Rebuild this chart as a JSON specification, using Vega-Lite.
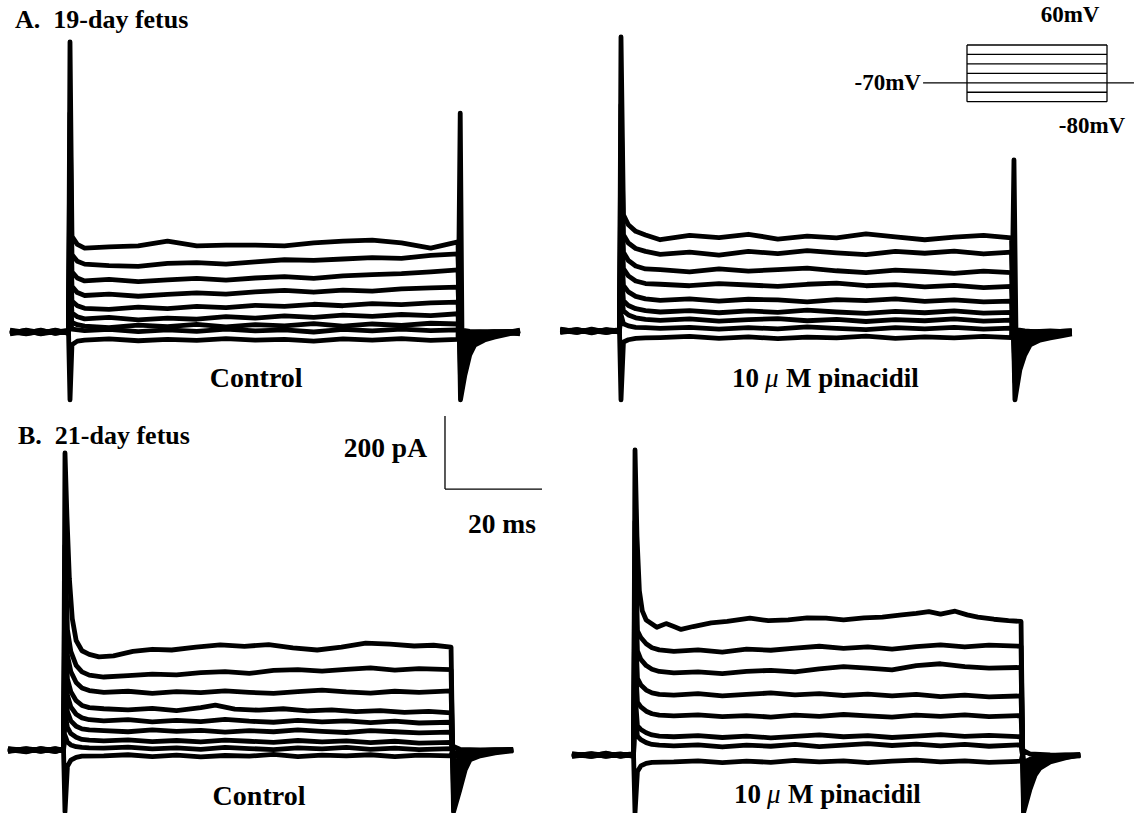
{
"$schema": "https://vega.github.io/schema/vega-lite/v6.json",
"padding": 0,
"background": "white",
"config": {"view": {"stroke": null}},
"bounds": "flush",
"spacing": 0,
"columns": 2,
"datasets": {
"AL": [
{"s":1,"t":-12.3,"i":4},{"s":1,"t":-9,"i":-3},{"s":1,"t":-6,"i":5},{"s":1,"t":-3,"i":-4},{"s":1,"t":-0.3,"i":3},{"s":1,"t":0,"i":795},{"s":1,"t":0.4,"i":262},{"s":1,"t":1.5,"i":240},{"s":1,"t":3,"i":230},{"s":1,"t":8,"i":233},{"s":1,"t":14,"i":236},{"s":1,"t":20,"i":249},{"s":1,"t":26,"i":236},{"s":1,"t":32,"i":238},{"s":1,"t":38,"i":238},{"s":1,"t":44,"i":236},{"s":1,"t":50,"i":244},{"s":1,"t":56,"i":249},{"s":1,"t":62,"i":252},{"s":1,"t":68,"i":244},{"s":1,"t":74,"i":230},{"s":1,"t":79.6,"i":247},{"s":1,"t":80.1,"i":-186},{"s":1,"t":81,"i":-118},{"s":1,"t":82,"i":-63},{"s":1,"t":83,"i":-36},{"s":1,"t":85,"i":-22},{"s":1,"t":87,"i":-14},{"s":1,"t":90,"i":-5},{"s":1,"t":92.3,"i":2},
{"s":2,"t":-12.3,"i":-4},{"s":2,"t":-9,"i":5},{"s":2,"t":-6,"i":-2},{"s":2,"t":-3,"i":4},{"s":2,"t":-0.3,"i":-3},{"s":2,"t":0,"i":600},{"s":2,"t":0.4,"i":212},{"s":2,"t":1.5,"i":194},{"s":2,"t":3,"i":186},{"s":2,"t":8,"i":182},{"s":2,"t":14,"i":180},{"s":2,"t":20,"i":188},{"s":2,"t":26,"i":190},{"s":2,"t":32,"i":186},{"s":2,"t":38,"i":192},{"s":2,"t":44,"i":198},{"s":2,"t":50,"i":196},{"s":2,"t":56,"i":200},{"s":2,"t":62,"i":204},{"s":2,"t":68,"i":202},{"s":2,"t":74,"i":210},{"s":2,"t":79.6,"i":214},{"s":2,"t":80.1,"i":-130},{"s":2,"t":81,"i":-85},{"s":2,"t":82,"i":-45},{"s":2,"t":83,"i":-26},{"s":2,"t":85,"i":-15},{"s":2,"t":87,"i":-9},{"s":2,"t":90,"i":-3},{"s":2,"t":92.3,"i":-4},
{"s":3,"t":-12.3,"i":1},{"s":3,"t":-9,"i":-5},{"s":3,"t":-6,"i":2},{"s":3,"t":-3,"i":-1},{"s":3,"t":-0.3,"i":5},{"s":3,"t":0,"i":470},{"s":3,"t":0.4,"i":165},{"s":3,"t":1.5,"i":148},{"s":3,"t":3,"i":140},{"s":3,"t":8,"i":144},{"s":3,"t":14,"i":138},{"s":3,"t":20,"i":143},{"s":3,"t":26,"i":147},{"s":3,"t":32,"i":142},{"s":3,"t":38,"i":148},{"s":3,"t":44,"i":152},{"s":3,"t":50,"i":147},{"s":3,"t":56,"i":154},{"s":3,"t":62,"i":157},{"s":3,"t":68,"i":160},{"s":3,"t":74,"i":165},{"s":3,"t":79.6,"i":170},{"s":3,"t":80.1,"i":-95},{"s":3,"t":81,"i":-60},{"s":3,"t":82,"i":-32},{"s":3,"t":83,"i":-18},{"s":3,"t":85,"i":-10},{"s":3,"t":87,"i":-6},{"s":3,"t":90,"i":-2},{"s":3,"t":92.3,"i":4},
{"s":4,"t":-12.3,"i":-2},{"s":4,"t":-9,"i":4},{"s":4,"t":-6,"i":-5},{"s":4,"t":-3,"i":1},{"s":4,"t":-0.3,"i":-1},{"s":4,"t":0,"i":350},{"s":4,"t":0.4,"i":125},{"s":4,"t":1.5,"i":108},{"s":4,"t":3,"i":100},{"s":4,"t":8,"i":104},{"s":4,"t":14,"i":98},{"s":4,"t":20,"i":103},{"s":4,"t":26,"i":107},{"s":4,"t":32,"i":104},{"s":4,"t":38,"i":110},{"s":4,"t":44,"i":114},{"s":4,"t":50,"i":109},{"s":4,"t":56,"i":115},{"s":4,"t":62,"i":112},{"s":4,"t":68,"i":118},{"s":4,"t":74,"i":121},{"s":4,"t":79.6,"i":123},{"s":4,"t":80.1,"i":-70},{"s":4,"t":81,"i":-45},{"s":4,"t":82,"i":-24},{"s":4,"t":83,"i":-13},{"s":4,"t":85,"i":-8},{"s":4,"t":87,"i":-4},{"s":4,"t":90,"i":-1},{"s":4,"t":92.3,"i":-5},
{"s":5,"t":-12.3,"i":5},{"s":5,"t":-9,"i":-1},{"s":5,"t":-6,"i":4},{"s":5,"t":-3,"i":-3},{"s":5,"t":-0.3,"i":1},{"s":5,"t":0,"i":250},{"s":5,"t":0.4,"i":85},{"s":5,"t":1.5,"i":72},{"s":5,"t":3,"i":65},{"s":5,"t":8,"i":62},{"s":5,"t":14,"i":68},{"s":5,"t":20,"i":64},{"s":5,"t":26,"i":70},{"s":5,"t":32,"i":67},{"s":5,"t":38,"i":73},{"s":5,"t":44,"i":70},{"s":5,"t":50,"i":76},{"s":5,"t":56,"i":72},{"s":5,"t":62,"i":78},{"s":5,"t":68,"i":75},{"s":5,"t":74,"i":80},{"s":5,"t":79.6,"i":82},{"s":5,"t":80.1,"i":-50},{"s":5,"t":81,"i":-32},{"s":5,"t":82,"i":-17},{"s":5,"t":83,"i":-9},{"s":5,"t":85,"i":-5},{"s":5,"t":87,"i":-3},{"s":5,"t":90,"i":0},{"s":5,"t":92.3,"i":5},
{"s":6,"t":-12.3,"i":-5},{"s":6,"t":-9,"i":1},{"s":6,"t":-6,"i":-3},{"s":6,"t":-3,"i":5},{"s":6,"t":-0.3,"i":-4},{"s":6,"t":0,"i":160},{"s":6,"t":0.4,"i":52},{"s":6,"t":1.5,"i":42},{"s":6,"t":3,"i":36},{"s":6,"t":8,"i":40},{"s":6,"t":14,"i":33},{"s":6,"t":20,"i":38},{"s":6,"t":26,"i":35},{"s":6,"t":32,"i":42},{"s":6,"t":38,"i":38},{"s":6,"t":44,"i":44},{"s":6,"t":50,"i":40},{"s":6,"t":56,"i":46},{"s":6,"t":62,"i":43},{"s":6,"t":68,"i":48},{"s":6,"t":74,"i":45},{"s":6,"t":79.6,"i":50},{"s":6,"t":80.1,"i":-32},{"s":6,"t":81,"i":-20},{"s":6,"t":82,"i":-11},{"s":6,"t":83,"i":-6},{"s":6,"t":85,"i":-3},{"s":6,"t":87,"i":-2},{"s":6,"t":90,"i":1},{"s":6,"t":92.3,"i":-2},
{"s":7,"t":-12.3,"i":2},{"s":7,"t":-9,"i":-4},{"s":7,"t":-6,"i":1},{"s":7,"t":-3,"i":-1},{"s":7,"t":-0.3,"i":2},{"s":7,"t":0,"i":90},{"s":7,"t":0.4,"i":26},{"s":7,"t":1.5,"i":20},{"s":7,"t":3,"i":16},{"s":7,"t":8,"i":12},{"s":7,"t":14,"i":19},{"s":7,"t":20,"i":15},{"s":7,"t":26,"i":21},{"s":7,"t":32,"i":14},{"s":7,"t":38,"i":20},{"s":7,"t":44,"i":17},{"s":7,"t":50,"i":23},{"s":7,"t":56,"i":16},{"s":7,"t":62,"i":22},{"s":7,"t":68,"i":18},{"s":7,"t":74,"i":24},{"s":7,"t":79.6,"i":22},{"s":7,"t":80.1,"i":-18},{"s":7,"t":81,"i":-11},{"s":7,"t":82,"i":-6},{"s":7,"t":83,"i":-3},{"s":7,"t":85,"i":-2},{"s":7,"t":87,"i":0},{"s":7,"t":90,"i":1},{"s":7,"t":92.3,"i":0},
{"s":8,"t":-12.3,"i":-1},{"s":8,"t":-9,"i":3},{"s":8,"t":-6,"i":-4},{"s":8,"t":-3,"i":3},{"s":8,"t":-0.3,"i":0},{"s":8,"t":0,"i":40},{"s":8,"t":0.4,"i":8},{"s":8,"t":3,"i":4},{"s":8,"t":8,"i":7},{"s":8,"t":14,"i":1},{"s":8,"t":20,"i":6},{"s":8,"t":26,"i":2},{"s":8,"t":32,"i":8},{"s":8,"t":38,"i":3},{"s":8,"t":44,"i":6},{"s":8,"t":50,"i":0},{"s":8,"t":56,"i":7},{"s":8,"t":62,"i":3},{"s":8,"t":68,"i":8},{"s":8,"t":74,"i":4},{"s":8,"t":79.6,"i":6},{"s":8,"t":80.1,"i":-8},{"s":8,"t":81,"i":-4},{"s":8,"t":83,"i":-1},{"s":8,"t":87,"i":1},{"s":8,"t":92.3,"i":-1},
{"s":9,"t":-12.3,"i":1},{"s":9,"t":-9,"i":-2},{"s":9,"t":-6,"i":2},{"s":9,"t":-3,"i":-1},{"s":9,"t":-0.3,"i":1},{"s":9,"t":0,"i":-186},{"s":9,"t":0.4,"i":-35},{"s":9,"t":1.5,"i":-25},{"s":9,"t":3,"i":-22},{"s":9,"t":8,"i":-19},{"s":9,"t":14,"i":-24},{"s":9,"t":20,"i":-20},{"s":9,"t":26,"i":-23},{"s":9,"t":32,"i":-18},{"s":9,"t":38,"i":-22},{"s":9,"t":44,"i":-20},{"s":9,"t":50,"i":-25},{"s":9,"t":56,"i":-19},{"s":9,"t":62,"i":-22},{"s":9,"t":68,"i":-18},{"s":9,"t":74,"i":-23},{"s":9,"t":79.6,"i":-20},{"s":9,"t":80.05,"i":600},{"s":9,"t":80.4,"i":5},{"s":9,"t":82,"i":2},{"s":9,"t":86,"i":0},{"s":9,"t":92.3,"i":1}
],
"AR": [
{"s":1,"t":-12.4,"i":3},{"s":1,"t":-9,"i":-4},{"s":1,"t":-6,"i":5},{"s":1,"t":-3,"i":-3},{"s":1,"t":-0.3,"i":1},{"s":1,"t":0,"i":806},{"s":1,"t":0.5,"i":318},{"s":1,"t":1.5,"i":291},{"s":1,"t":3,"i":273},{"s":1,"t":5,"i":263},{"s":1,"t":8,"i":250},{"s":1,"t":14,"i":262},{"s":1,"t":20,"i":256},{"s":1,"t":26,"i":265},{"s":1,"t":32,"i":252},{"s":1,"t":38,"i":260},{"s":1,"t":44,"i":255},{"s":1,"t":50,"i":266},{"s":1,"t":56,"i":258},{"s":1,"t":62,"i":250},{"s":1,"t":68,"i":257},{"s":1,"t":74,"i":262},{"s":1,"t":79.7,"i":255},{"s":1,"t":80.4,"i":-189},{"s":1,"t":81.4,"i":-107},{"s":1,"t":82.4,"i":-66},{"s":1,"t":83.5,"i":-38},{"s":1,"t":85.5,"i":-25},{"s":1,"t":87.6,"i":-19},{"s":1,"t":89.6,"i":-14},{"s":1,"t":92,"i":-8},
{"s":2,"t":-12.4,"i":-3},{"s":2,"t":-9,"i":4},{"s":2,"t":-6,"i":-4},{"s":2,"t":-3,"i":2},{"s":2,"t":-0.3,"i":-1},{"s":2,"t":0,"i":620},{"s":2,"t":0.5,"i":264},{"s":2,"t":1.5,"i":241},{"s":2,"t":3,"i":226},{"s":2,"t":5,"i":218},{"s":2,"t":8,"i":210},{"s":2,"t":14,"i":216},{"s":2,"t":20,"i":208},{"s":2,"t":26,"i":218},{"s":2,"t":32,"i":212},{"s":2,"t":38,"i":220},{"s":2,"t":44,"i":214},{"s":2,"t":50,"i":209},{"s":2,"t":56,"i":218},{"s":2,"t":62,"i":213},{"s":2,"t":68,"i":219},{"s":2,"t":74,"i":211},{"s":2,"t":79.7,"i":216},{"s":2,"t":80.4,"i":-140},{"s":2,"t":81.4,"i":-80},{"s":2,"t":82.4,"i":-50},{"s":2,"t":83.5,"i":-29},{"s":2,"t":85.5,"i":-19},{"s":2,"t":87.6,"i":-14},{"s":2,"t":89.6,"i":-11},{"s":2,"t":92,"i":-6},
{"s":3,"t":-12.4,"i":4},{"s":3,"t":-9,"i":-1},{"s":3,"t":-6,"i":2},{"s":3,"t":-3,"i":-4},{"s":3,"t":-0.3,"i":2},{"s":3,"t":0,"i":480},{"s":3,"t":0.5,"i":216},{"s":3,"t":1.5,"i":193},{"s":3,"t":3,"i":178},{"s":3,"t":5,"i":170},{"s":3,"t":8,"i":168},{"s":3,"t":14,"i":162},{"s":3,"t":20,"i":170},{"s":3,"t":26,"i":164},{"s":3,"t":32,"i":168},{"s":3,"t":38,"i":172},{"s":3,"t":44,"i":165},{"s":3,"t":50,"i":160},{"s":3,"t":56,"i":167},{"s":3,"t":62,"i":163},{"s":3,"t":68,"i":158},{"s":3,"t":74,"i":164},{"s":3,"t":79.7,"i":160},{"s":3,"t":80.4,"i":-105},{"s":3,"t":81.4,"i":-60},{"s":3,"t":82.4,"i":-37},{"s":3,"t":83.5,"i":-22},{"s":3,"t":85.5,"i":-15},{"s":3,"t":87.6,"i":-11},{"s":3,"t":89.6,"i":-9},{"s":3,"t":92,"i":-5},
{"s":4,"t":-12.4,"i":-1},{"s":4,"t":-9,"i":3},{"s":4,"t":-6,"i":-5},{"s":4,"t":-3,"i":4},{"s":4,"t":-0.3,"i":0},{"s":4,"t":0,"i":360},{"s":4,"t":0.5,"i":171},{"s":4,"t":1.5,"i":151},{"s":4,"t":3,"i":137},{"s":4,"t":5,"i":130},{"s":4,"t":8,"i":128},{"s":4,"t":14,"i":124},{"s":4,"t":20,"i":130},{"s":4,"t":26,"i":126},{"s":4,"t":32,"i":122},{"s":4,"t":38,"i":128},{"s":4,"t":44,"i":131},{"s":4,"t":50,"i":124},{"s":4,"t":56,"i":127},{"s":4,"t":62,"i":121},{"s":4,"t":68,"i":125},{"s":4,"t":74,"i":119},{"s":4,"t":79.7,"i":122},{"s":4,"t":80.4,"i":-75},{"s":4,"t":81.4,"i":-43},{"s":4,"t":82.4,"i":-27},{"s":4,"t":83.5,"i":-16},{"s":4,"t":85.5,"i":-11},{"s":4,"t":87.6,"i":-8},{"s":4,"t":89.6,"i":-7},{"s":4,"t":92,"i":-4},
{"s":5,"t":-12.4,"i":5},{"s":5,"t":-9,"i":-2},{"s":5,"t":-6,"i":1},{"s":5,"t":-3,"i":-2},{"s":5,"t":-0.3,"i":4},{"s":5,"t":0,"i":260},{"s":5,"t":0.5,"i":125},{"s":5,"t":1.5,"i":107},{"s":5,"t":3,"i":95},{"s":5,"t":5,"i":88},{"s":5,"t":8,"i":84},{"s":5,"t":14,"i":88},{"s":5,"t":20,"i":82},{"s":5,"t":26,"i":87},{"s":5,"t":32,"i":85},{"s":5,"t":38,"i":80},{"s":5,"t":44,"i":86},{"s":5,"t":50,"i":83},{"s":5,"t":56,"i":88},{"s":5,"t":62,"i":81},{"s":5,"t":68,"i":85},{"s":5,"t":74,"i":80},{"s":5,"t":79.7,"i":82},{"s":5,"t":80.4,"i":-52},{"s":5,"t":81.4,"i":-30},{"s":5,"t":82.4,"i":-19},{"s":5,"t":83.5,"i":-11},{"s":5,"t":85.5,"i":-8},{"s":5,"t":87.6,"i":-6},{"s":5,"t":89.6,"i":-5},{"s":5,"t":92,"i":-3},
{"s":6,"t":-12.4,"i":-4},{"s":6,"t":-9,"i":1},{"s":6,"t":-6,"i":-2},{"s":6,"t":-3,"i":3},{"s":6,"t":-0.3,"i":-3},{"s":6,"t":0,"i":180},{"s":6,"t":0.5,"i":83},{"s":6,"t":1.5,"i":70},{"s":6,"t":3,"i":61},{"s":6,"t":5,"i":56},{"s":6,"t":8,"i":52},{"s":6,"t":14,"i":56},{"s":6,"t":20,"i":50},{"s":6,"t":26,"i":55},{"s":6,"t":32,"i":51},{"s":6,"t":38,"i":57},{"s":6,"t":44,"i":52},{"s":6,"t":50,"i":48},{"s":6,"t":56,"i":54},{"s":6,"t":62,"i":50},{"s":6,"t":68,"i":55},{"s":6,"t":74,"i":49},{"s":6,"t":79.7,"i":51},{"s":6,"t":80.4,"i":-35},{"s":6,"t":81.4,"i":-20},{"s":6,"t":82.4,"i":-12},{"s":6,"t":83.5,"i":-8},{"s":6,"t":85.5,"i":-5},{"s":6,"t":87.6,"i":-4},{"s":6,"t":89.6,"i":-3},{"s":6,"t":92,"i":-2},
{"s":7,"t":-12.4,"i":1},{"s":7,"t":-9,"i":-4},{"s":7,"t":-6,"i":3},{"s":7,"t":-3,"i":-1},{"s":7,"t":-0.3,"i":1},{"s":7,"t":0,"i":110},{"s":7,"t":0.5,"i":55},{"s":7,"t":1.5,"i":44},{"s":7,"t":3,"i":36},{"s":7,"t":5,"i":32},{"s":7,"t":8,"i":29},{"s":7,"t":14,"i":33},{"s":7,"t":20,"i":27},{"s":7,"t":26,"i":31},{"s":7,"t":32,"i":34},{"s":7,"t":38,"i":28},{"s":7,"t":44,"i":32},{"s":7,"t":50,"i":26},{"s":7,"t":56,"i":31},{"s":7,"t":62,"i":28},{"s":7,"t":68,"i":33},{"s":7,"t":74,"i":27},{"s":7,"t":79.7,"i":30},{"s":7,"t":80.4,"i":-20},{"s":7,"t":81.4,"i":-12},{"s":7,"t":82.4,"i":-7},{"s":7,"t":83.5,"i":-4},{"s":7,"t":85.5,"i":-3},{"s":7,"t":87.6,"i":-2},{"s":7,"t":89.6,"i":-1},{"s":7,"t":92,"i":0},
{"s":8,"t":-12.4,"i":-2},{"s":8,"t":-9,"i":2},{"s":8,"t":-6,"i":0},{"s":8,"t":-3,"i":-4},{"s":8,"t":-0.3,"i":1},{"s":8,"t":0,"i":45},{"s":8,"t":0.5,"i":20},{"s":8,"t":1.5,"i":14},{"s":8,"t":3,"i":10},{"s":8,"t":5,"i":9},{"s":8,"t":8,"i":7},{"s":8,"t":14,"i":10},{"s":8,"t":20,"i":5},{"s":8,"t":26,"i":9},{"s":8,"t":32,"i":6},{"s":8,"t":38,"i":11},{"s":8,"t":44,"i":7},{"s":8,"t":50,"i":4},{"s":8,"t":56,"i":9},{"s":8,"t":62,"i":6},{"s":8,"t":68,"i":10},{"s":8,"t":74,"i":5},{"s":8,"t":79.7,"i":8},{"s":8,"t":80.4,"i":-8},{"s":8,"t":81.4,"i":-5},{"s":8,"t":82.4,"i":-3},{"s":8,"t":83.5,"i":-2},{"s":8,"t":85.5,"i":-1},{"s":8,"t":87.6,"i":0},{"s":8,"t":89.6,"i":-1},{"s":8,"t":92,"i":1},
{"s":9,"t":-12.4,"i":0},{"s":9,"t":-9,"i":3},{"s":9,"t":-6,"i":-1},{"s":9,"t":-3,"i":1},{"s":9,"t":-0.3,"i":-2},{"s":9,"t":0,"i":-189},{"s":9,"t":0.5,"i":-30},{"s":9,"t":1.5,"i":-24},{"s":9,"t":3,"i":-20},{"s":9,"t":5,"i":-19},{"s":9,"t":8,"i":-18},{"s":9,"t":14,"i":-15},{"s":9,"t":20,"i":-20},{"s":9,"t":26,"i":-16},{"s":9,"t":32,"i":-21},{"s":9,"t":38,"i":-17},{"s":9,"t":44,"i":-19},{"s":9,"t":50,"i":-14},{"s":9,"t":56,"i":-20},{"s":9,"t":62,"i":-16},{"s":9,"t":68,"i":-19},{"s":9,"t":74,"i":-15},{"s":9,"t":79.7,"i":-18},{"s":9,"t":80.2,"i":469},{"s":9,"t":80.6,"i":4},{"s":9,"t":82.4,"i":0},{"s":9,"t":85.5,"i":-3},{"s":9,"t":89.6,"i":-2},{"s":9,"t":92,"i":-4}
],
"BL": [
{"s":1,"t":-11.75,"i":3},{"s":1,"t":-8,"i":-4},{"s":1,"t":-5,"i":4},{"s":1,"t":-2,"i":-3},{"s":1,"t":-0.3,"i":1},{"s":1,"t":0,"i":814},{"s":1,"t":0.4,"i":640},{"s":1,"t":0.9,"i":470},{"s":1,"t":1.5,"i":360},{"s":1,"t":2.3,"i":300},{"s":1,"t":3.5,"i":272},{"s":1,"t":5,"i":262},{"s":1,"t":7,"i":255},{"s":1,"t":10,"i":258},{"s":1,"t":14,"i":270},{"s":1,"t":18,"i":276},{"s":1,"t":22,"i":274},{"s":1,"t":27,"i":282},{"s":1,"t":32,"i":288},{"s":1,"t":37,"i":284},{"s":1,"t":42,"i":289},{"s":1,"t":47,"i":280},{"s":1,"t":52,"i":274},{"s":1,"t":57,"i":282},{"s":1,"t":62,"i":293},{"s":1,"t":67,"i":290},{"s":1,"t":72,"i":285},{"s":1,"t":76,"i":287},{"s":1,"t":79.6,"i":282},{"s":1,"t":80.1,"i":-170},{"s":1,"t":81.4,"i":-110},{"s":1,"t":82.5,"i":-55},{"s":1,"t":83.5,"i":-27},{"s":1,"t":85.6,"i":-16},{"s":1,"t":88.7,"i":-8},{"s":1,"t":92.4,"i":-2},
{"s":2,"t":-11.75,"i":-3},{"s":2,"t":-8,"i":4},{"s":2,"t":-5,"i":-1},{"s":2,"t":-2,"i":3},{"s":2,"t":-0.3,"i":-2},{"s":2,"t":0,"i":560},{"s":2,"t":0.5,"i":330},{"s":2,"t":1.2,"i":270},{"s":2,"t":2.3,"i":232},{"s":2,"t":3.5,"i":214},{"s":2,"t":5,"i":205},{"s":2,"t":8,"i":200},{"s":2,"t":13,"i":204},{"s":2,"t":18,"i":208},{"s":2,"t":23,"i":206},{"s":2,"t":28,"i":212},{"s":2,"t":33,"i":215},{"s":2,"t":38,"i":210},{"s":2,"t":43,"i":218},{"s":2,"t":48,"i":220},{"s":2,"t":53,"i":216},{"s":2,"t":58,"i":221},{"s":2,"t":63,"i":225},{"s":2,"t":68,"i":219},{"s":2,"t":73,"i":223},{"s":2,"t":79.6,"i":220},{"s":2,"t":80.1,"i":-135},{"s":2,"t":81.4,"i":-85},{"s":2,"t":82.5,"i":-42},{"s":2,"t":83.5,"i":-21},{"s":2,"t":85.6,"i":-12},{"s":2,"t":88.7,"i":-6},{"s":2,"t":92.4,"i":1},
{"s":3,"t":-11.75,"i":4},{"s":3,"t":-8,"i":-1},{"s":3,"t":-5,"i":2},{"s":3,"t":-2,"i":-4},{"s":3,"t":-0.3,"i":1},{"s":3,"t":0,"i":430},{"s":3,"t":0.5,"i":260},{"s":3,"t":1.2,"i":215},{"s":3,"t":2.3,"i":185},{"s":3,"t":3.5,"i":170},{"s":3,"t":5,"i":163},{"s":3,"t":8,"i":158},{"s":3,"t":13,"i":161},{"s":3,"t":18,"i":155},{"s":3,"t":23,"i":160},{"s":3,"t":28,"i":157},{"s":3,"t":33,"i":162},{"s":3,"t":38,"i":158},{"s":3,"t":43,"i":155},{"s":3,"t":48,"i":160},{"s":3,"t":53,"i":164},{"s":3,"t":58,"i":159},{"s":3,"t":63,"i":156},{"s":3,"t":68,"i":161},{"s":3,"t":73,"i":158},{"s":3,"t":79.6,"i":162},{"s":3,"t":80.1,"i":-100},{"s":3,"t":81.4,"i":-62},{"s":3,"t":82.5,"i":-31},{"s":3,"t":83.5,"i":-16},{"s":3,"t":85.6,"i":-9},{"s":3,"t":88.7,"i":-4},{"s":3,"t":92.4,"i":-1},
{"s":4,"t":-11.75,"i":-4},{"s":4,"t":-8,"i":2},{"s":4,"t":-5,"i":-3},{"s":4,"t":-2,"i":1},{"s":4,"t":-0.3,"i":-1},{"s":4,"t":0,"i":330},{"s":4,"t":0.5,"i":195},{"s":4,"t":1.2,"i":160},{"s":4,"t":2.3,"i":135},{"s":4,"t":3.5,"i":122},{"s":4,"t":5,"i":116},{"s":4,"t":8,"i":113},{"s":4,"t":13,"i":110},{"s":4,"t":18,"i":114},{"s":4,"t":23,"i":108},{"s":4,"t":28,"i":116},{"s":4,"t":31,"i":123},{"s":4,"t":35,"i":112},{"s":4,"t":40,"i":109},{"s":4,"t":45,"i":113},{"s":4,"t":50,"i":107},{"s":4,"t":55,"i":110},{"s":4,"t":60,"i":105},{"s":4,"t":65,"i":108},{"s":4,"t":70,"i":103},{"s":4,"t":75,"i":106},{"s":4,"t":79.6,"i":102},{"s":4,"t":80.1,"i":-75},{"s":4,"t":81.4,"i":-46},{"s":4,"t":82.5,"i":-23},{"s":4,"t":83.5,"i":-12},{"s":4,"t":85.6,"i":-7},{"s":4,"t":88.7,"i":-3},{"s":4,"t":92.4,"i":2},
{"s":5,"t":-11.75,"i":1},{"s":5,"t":-8,"i":-5},{"s":5,"t":-5,"i":4},{"s":5,"t":-2,"i":-1},{"s":5,"t":-0.3,"i":2},{"s":5,"t":0,"i":250},{"s":5,"t":0.5,"i":150},{"s":5,"t":1.2,"i":118},{"s":5,"t":2.3,"i":98},{"s":5,"t":3.5,"i":88},{"s":5,"t":5,"i":83},{"s":5,"t":8,"i":80},{"s":5,"t":13,"i":83},{"s":5,"t":18,"i":77},{"s":5,"t":23,"i":81},{"s":5,"t":28,"i":78},{"s":5,"t":33,"i":84},{"s":5,"t":38,"i":79},{"s":5,"t":43,"i":76},{"s":5,"t":48,"i":81},{"s":5,"t":53,"i":77},{"s":5,"t":58,"i":80},{"s":5,"t":63,"i":75},{"s":5,"t":68,"i":79},{"s":5,"t":73,"i":74},{"s":5,"t":79.6,"i":76},{"s":5,"t":80.1,"i":-55},{"s":5,"t":81.4,"i":-34},{"s":5,"t":82.5,"i":-17},{"s":5,"t":83.5,"i":-9},{"s":5,"t":85.6,"i":-5},{"s":5,"t":88.7,"i":-2},{"s":5,"t":92.4,"i":-1},
{"s":6,"t":-11.75,"i":-1},{"s":6,"t":-8,"i":3},{"s":6,"t":-5,"i":-4},{"s":6,"t":-2,"i":4},{"s":6,"t":-0.3,"i":0},{"s":6,"t":0,"i":170},{"s":6,"t":0.5,"i":105},{"s":6,"t":1.2,"i":80},{"s":6,"t":2.3,"i":65},{"s":6,"t":3.5,"i":58},{"s":6,"t":5,"i":55},{"s":6,"t":8,"i":53},{"s":6,"t":13,"i":50},{"s":6,"t":18,"i":55},{"s":6,"t":23,"i":51},{"s":6,"t":28,"i":54},{"s":6,"t":33,"i":49},{"s":6,"t":38,"i":53},{"s":6,"t":43,"i":50},{"s":6,"t":48,"i":55},{"s":6,"t":53,"i":51},{"s":6,"t":58,"i":48},{"s":6,"t":63,"i":53},{"s":6,"t":68,"i":50},{"s":6,"t":73,"i":47},{"s":6,"t":79.6,"i":49},{"s":6,"t":80.1,"i":-38},{"s":6,"t":81.4,"i":-23},{"s":6,"t":82.5,"i":-12},{"s":6,"t":83.5,"i":-6},{"s":6,"t":85.6,"i":-3},{"s":6,"t":88.7,"i":-1},{"s":6,"t":92.4,"i":1},
{"s":7,"t":-11.75,"i":2},{"s":7,"t":-8,"i":-2},{"s":7,"t":-5,"i":1},{"s":7,"t":-2,"i":-4},{"s":7,"t":-0.3,"i":2},{"s":7,"t":0,"i":100},{"s":7,"t":0.5,"i":62},{"s":7,"t":1.2,"i":45},{"s":7,"t":2.3,"i":35},{"s":7,"t":3.5,"i":29},{"s":7,"t":5,"i":27},{"s":7,"t":8,"i":25},{"s":7,"t":13,"i":28},{"s":7,"t":18,"i":23},{"s":7,"t":23,"i":26},{"s":7,"t":28,"i":22},{"s":7,"t":33,"i":27},{"s":7,"t":38,"i":24},{"s":7,"t":43,"i":21},{"s":7,"t":48,"i":26},{"s":7,"t":53,"i":22},{"s":7,"t":58,"i":25},{"s":7,"t":63,"i":20},{"s":7,"t":68,"i":24},{"s":7,"t":73,"i":19},{"s":7,"t":79.6,"i":21},{"s":7,"t":80.1,"i":-20},{"s":7,"t":81.4,"i":-12},{"s":7,"t":82.5,"i":-6},{"s":7,"t":83.5,"i":-3},{"s":7,"t":85.6,"i":-2},{"s":7,"t":88.7,"i":0},{"s":7,"t":92.4,"i":-2},
{"s":8,"t":-11.75,"i":-2},{"s":8,"t":-8,"i":1},{"s":8,"t":-5,"i":-1},{"s":8,"t":-2,"i":2},{"s":8,"t":-0.3,"i":-1},{"s":8,"t":0,"i":40},{"s":8,"t":0.5,"i":22},{"s":8,"t":1.2,"i":14},{"s":8,"t":2.3,"i":9},{"s":8,"t":3.5,"i":7},{"s":8,"t":5,"i":6},{"s":8,"t":8,"i":5},{"s":8,"t":13,"i":8},{"s":8,"t":18,"i":3},{"s":8,"t":23,"i":6},{"s":8,"t":28,"i":2},{"s":8,"t":33,"i":7},{"s":8,"t":38,"i":4},{"s":8,"t":43,"i":1},{"s":8,"t":48,"i":6},{"s":8,"t":53,"i":3},{"s":8,"t":58,"i":7},{"s":8,"t":63,"i":2},{"s":8,"t":68,"i":5},{"s":8,"t":73,"i":1},{"s":8,"t":79.6,"i":4},{"s":8,"t":80.1,"i":-8},{"s":8,"t":81.4,"i":-5},{"s":8,"t":82.5,"i":-3},{"s":8,"t":85.6,"i":-1},{"s":8,"t":92.4,"i":1},
{"s":9,"t":-11.75,"i":1},{"s":9,"t":-8,"i":-1},{"s":9,"t":-5,"i":2},{"s":9,"t":-2,"i":-2},{"s":9,"t":-0.3,"i":1},{"s":9,"t":0,"i":-170},{"s":9,"t":0.5,"i":-45},{"s":9,"t":1.2,"i":-28},{"s":9,"t":2.3,"i":-20},{"s":9,"t":3.5,"i":-17},{"s":9,"t":8,"i":-16},{"s":9,"t":13,"i":-13},{"s":9,"t":18,"i":-18},{"s":9,"t":23,"i":-14},{"s":9,"t":28,"i":-19},{"s":9,"t":33,"i":-15},{"s":9,"t":38,"i":-17},{"s":9,"t":43,"i":-12},{"s":9,"t":48,"i":-18},{"s":9,"t":53,"i":-14},{"s":9,"t":58,"i":-16},{"s":9,"t":63,"i":-13},{"s":9,"t":68,"i":-18},{"s":9,"t":73,"i":-14},{"s":9,"t":79.6,"i":-16},{"s":9,"t":80.1,"i":10},{"s":9,"t":81.4,"i":2},{"s":9,"t":85.6,"i":0},{"s":9,"t":92.4,"i":1}
],
"BR": [
{"s":1,"t":-13,"i":4},{"s":1,"t":-9,"i":-3},{"s":1,"t":-6,"i":5},{"s":1,"t":-3,"i":-4},{"s":1,"t":-0.3,"i":2},{"s":1,"t":0,"i":836},{"s":1,"t":0.4,"i":600},{"s":1,"t":0.9,"i":450},{"s":1,"t":1.5,"i":395},{"s":1,"t":2.3,"i":370},{"s":1,"t":3.2,"i":362},{"s":1,"t":4.5,"i":350},{"s":1,"t":6.4,"i":360},{"s":1,"t":8,"i":352},{"s":1,"t":9.5,"i":344},{"s":1,"t":12,"i":352},{"s":1,"t":15.7,"i":362},{"s":1,"t":19,"i":366},{"s":1,"t":23.7,"i":375},{"s":1,"t":27.5,"i":368},{"s":1,"t":31.6,"i":370},{"s":1,"t":35.5,"i":376},{"s":1,"t":39.4,"i":375},{"s":1,"t":43,"i":370},{"s":1,"t":47.2,"i":376},{"s":1,"t":51,"i":378},{"s":1,"t":55,"i":384},{"s":1,"t":58,"i":388},{"s":1,"t":60.6,"i":393},{"s":1,"t":63,"i":386},{"s":1,"t":66,"i":394},{"s":1,"t":68.5,"i":384},{"s":1,"t":70.7,"i":378},{"s":1,"t":74,"i":372},{"s":1,"t":77,"i":368},{"s":1,"t":79.6,"i":366},{"s":1,"t":80.1,"i":-159},{"s":1,"t":81.4,"i":-96},{"s":1,"t":82.5,"i":-55},{"s":1,"t":83.5,"i":-36},{"s":1,"t":85.6,"i":-19},{"s":1,"t":88.7,"i":-8},{"s":1,"t":91.8,"i":0},
{"s":2,"t":-13,"i":-3},{"s":2,"t":-9,"i":4},{"s":2,"t":-6,"i":-1},{"s":2,"t":-3,"i":3},{"s":2,"t":-0.3,"i":-4},{"s":2,"t":0,"i":640},{"s":2,"t":0.5,"i":340},{"s":2,"t":1.2,"i":322},{"s":2,"t":2.3,"i":305},{"s":2,"t":3.5,"i":294},{"s":2,"t":5,"i":288},{"s":2,"t":8,"i":284},{"s":2,"t":13,"i":288},{"s":2,"t":18,"i":282},{"s":2,"t":23,"i":290},{"s":2,"t":28,"i":287},{"s":2,"t":33,"i":293},{"s":2,"t":38,"i":298},{"s":2,"t":43,"i":292},{"s":2,"t":48,"i":296},{"s":2,"t":53,"i":290},{"s":2,"t":58,"i":297},{"s":2,"t":63,"i":302},{"s":2,"t":68,"i":296},{"s":2,"t":73,"i":301},{"s":2,"t":79.6,"i":298},{"s":2,"t":80.1,"i":-130},{"s":2,"t":81.4,"i":-76},{"s":2,"t":82.5,"i":-44},{"s":2,"t":83.5,"i":-28},{"s":2,"t":85.6,"i":-15},{"s":2,"t":88.7,"i":-6},{"s":2,"t":91.8,"i":-2},
{"s":3,"t":-13,"i":2},{"s":3,"t":-9,"i":-1},{"s":3,"t":-6,"i":4},{"s":3,"t":-3,"i":-2},{"s":3,"t":-0.3,"i":1},{"s":3,"t":0,"i":500},{"s":3,"t":0.5,"i":285},{"s":3,"t":1.2,"i":262},{"s":3,"t":2.3,"i":245},{"s":3,"t":3.5,"i":235},{"s":3,"t":5,"i":229},{"s":3,"t":8,"i":225},{"s":3,"t":13,"i":228},{"s":3,"t":18,"i":223},{"s":3,"t":23,"i":229},{"s":3,"t":28,"i":232},{"s":3,"t":33,"i":228},{"s":3,"t":38,"i":236},{"s":3,"t":43,"i":242},{"s":3,"t":48,"i":238},{"s":3,"t":53,"i":233},{"s":3,"t":58,"i":245},{"s":3,"t":63,"i":250},{"s":3,"t":68,"i":242},{"s":3,"t":73,"i":238},{"s":3,"t":79.6,"i":240},{"s":3,"t":80.1,"i":-100},{"s":3,"t":81.4,"i":-58},{"s":3,"t":82.5,"i":-34},{"s":3,"t":83.5,"i":-21},{"s":3,"t":85.6,"i":-11},{"s":3,"t":88.7,"i":-4},{"s":3,"t":91.8,"i":1},
{"s":4,"t":-13,"i":-4},{"s":4,"t":-9,"i":2},{"s":4,"t":-6,"i":-3},{"s":4,"t":-3,"i":1},{"s":4,"t":-0.3,"i":0},{"s":4,"t":0,"i":380},{"s":4,"t":0.5,"i":210},{"s":4,"t":1.2,"i":192},{"s":4,"t":2.3,"i":178},{"s":4,"t":3.5,"i":170},{"s":4,"t":5,"i":166},{"s":4,"t":8,"i":164},{"s":4,"t":13,"i":168},{"s":4,"t":18,"i":162},{"s":4,"t":23,"i":166},{"s":4,"t":28,"i":170},{"s":4,"t":33,"i":165},{"s":4,"t":38,"i":168},{"s":4,"t":43,"i":163},{"s":4,"t":48,"i":167},{"s":4,"t":53,"i":162},{"s":4,"t":58,"i":166},{"s":4,"t":63,"i":160},{"s":4,"t":68,"i":164},{"s":4,"t":73,"i":159},{"s":4,"t":79.6,"i":162},{"s":4,"t":80.1,"i":-75},{"s":4,"t":81.4,"i":-43},{"s":4,"t":82.5,"i":-25},{"s":4,"t":83.5,"i":-15},{"s":4,"t":85.6,"i":-8},{"s":4,"t":88.7,"i":-3},{"s":4,"t":91.8,"i":-1},
{"s":5,"t":-13,"i":1},{"s":5,"t":-9,"i":-4},{"s":5,"t":-6,"i":2},{"s":5,"t":-3,"i":-1},{"s":5,"t":-0.3,"i":4},{"s":5,"t":0,"i":270},{"s":5,"t":0.5,"i":145},{"s":5,"t":1.2,"i":132},{"s":5,"t":2.3,"i":120},{"s":5,"t":3.5,"i":113},{"s":5,"t":5,"i":109},{"s":5,"t":8,"i":107},{"s":5,"t":13,"i":110},{"s":5,"t":18,"i":105},{"s":5,"t":23,"i":108},{"s":5,"t":28,"i":104},{"s":5,"t":33,"i":109},{"s":5,"t":38,"i":106},{"s":5,"t":43,"i":111},{"s":5,"t":48,"i":107},{"s":5,"t":53,"i":104},{"s":5,"t":58,"i":109},{"s":5,"t":63,"i":106},{"s":5,"t":68,"i":110},{"s":5,"t":73,"i":105},{"s":5,"t":79.6,"i":108},{"s":5,"t":80.1,"i":-55},{"s":5,"t":81.4,"i":-31},{"s":5,"t":82.5,"i":-18},{"s":5,"t":83.5,"i":-11},{"s":5,"t":85.6,"i":-6},{"s":5,"t":88.7,"i":-2},{"s":5,"t":91.8,"i":0},
{"s":6,"t":-13,"i":-1},{"s":6,"t":-9,"i":3},{"s":6,"t":-6,"i":-4},{"s":6,"t":-3,"i":2},{"s":6,"t":-0.3,"i":-1},{"s":6,"t":0,"i":170},{"s":6,"t":0.5,"i":80},{"s":6,"t":1.2,"i":70},{"s":6,"t":2.3,"i":61},{"s":6,"t":3.5,"i":55},{"s":6,"t":5,"i":52},{"s":6,"t":8,"i":50},{"s":6,"t":13,"i":53},{"s":6,"t":18,"i":48},{"s":6,"t":23,"i":52},{"s":6,"t":28,"i":47},{"s":6,"t":33,"i":51},{"s":6,"t":38,"i":55},{"s":6,"t":43,"i":50},{"s":6,"t":48,"i":53},{"s":6,"t":53,"i":48},{"s":6,"t":58,"i":52},{"s":6,"t":63,"i":56},{"s":6,"t":68,"i":51},{"s":6,"t":73,"i":54},{"s":6,"t":79.6,"i":50},{"s":6,"t":80.1,"i":-35},{"s":6,"t":81.4,"i":-20},{"s":6,"t":82.5,"i":-12},{"s":6,"t":83.5,"i":-7},{"s":6,"t":85.6,"i":-4},{"s":6,"t":88.7,"i":-1},{"s":6,"t":91.8,"i":-2},
{"s":7,"t":-13,"i":2},{"s":7,"t":-9,"i":-3},{"s":7,"t":-6,"i":1},{"s":7,"t":-3,"i":-2},{"s":7,"t":-0.3,"i":1},{"s":7,"t":0,"i":110},{"s":7,"t":0.5,"i":52},{"s":7,"t":1.2,"i":42},{"s":7,"t":2.3,"i":34},{"s":7,"t":3.5,"i":29},{"s":7,"t":5,"i":27},{"s":7,"t":8,"i":25},{"s":7,"t":13,"i":28},{"s":7,"t":18,"i":22},{"s":7,"t":23,"i":27},{"s":7,"t":28,"i":24},{"s":7,"t":33,"i":29},{"s":7,"t":38,"i":23},{"s":7,"t":43,"i":27},{"s":7,"t":48,"i":31},{"s":7,"t":53,"i":26},{"s":7,"t":58,"i":30},{"s":7,"t":63,"i":25},{"s":7,"t":68,"i":29},{"s":7,"t":73,"i":24},{"s":7,"t":79.6,"i":28},{"s":7,"t":80.1,"i":-20},{"s":7,"t":81.4,"i":-12},{"s":7,"t":82.5,"i":-7},{"s":7,"t":83.5,"i":-4},{"s":7,"t":85.6,"i":-2},{"s":7,"t":88.7,"i":0},{"s":7,"t":91.8,"i":1},
{"s":8,"t":-13,"i":0},{"s":8,"t":-9,"i":-2},{"s":8,"t":-6,"i":2},{"s":8,"t":-3,"i":-1},{"s":8,"t":-0.3,"i":1},{"s":8,"t":0,"i":-159},{"s":8,"t":0.5,"i":-45},{"s":8,"t":1.2,"i":-30},{"s":8,"t":2.3,"i":-23},{"s":8,"t":3.5,"i":-20},{"s":8,"t":8,"i":-19},{"s":8,"t":13,"i":-16},{"s":8,"t":18,"i":-21},{"s":8,"t":23,"i":-17},{"s":8,"t":28,"i":-20},{"s":8,"t":33,"i":-15},{"s":8,"t":38,"i":-19},{"s":8,"t":43,"i":-16},{"s":8,"t":48,"i":-21},{"s":8,"t":53,"i":-17},{"s":8,"t":58,"i":-14},{"s":8,"t":63,"i":-19},{"s":8,"t":68,"i":-16},{"s":8,"t":73,"i":-20},{"s":8,"t":79.6,"i":-17},{"s":8,"t":80.1,"i":12},{"s":8,"t":81.4,"i":3},{"s":8,"t":85.6,"i":0},{"s":8,"t":91.8,"i":-1}
]
},
"concat": [
{
"width": 545, "height": 410,
"encoding": {
"x": {"field": "t", "type": "quantitative", "scale": {"domain": [-14.36, 97.44], "nice": false, "zero": false}, "axis": null},
"y": {"field": "i", "type": "quantitative", "scale": {"domain": [-213.7, 909.7], "nice": false, "zero": false}, "axis": null}
},
"layer": [
{"data": {"name": "AL"}, "mark": {"type": "line", "stroke": "black", "strokeWidth": 4.8, "strokeJoin": "round"}, "encoding": {"detail": {"field": "s"}}},
{"data": {"values": [{"t": -11.28, "i": 833, "txt": "A.\u00a0\u00a019-day fetus"}]}, "mark": {"type": "text", "font": "Liberation Serif", "fontWeight": "bold", "fontSize": 26, "align": "left", "baseline": "alphabetic", "color": "black"}, "encoding": {"text": {"field": "txt"}}},
{"data": {"values": [{"t": 38.2, "i": -151, "txt": "Control"}]}, "mark": {"type": "text", "font": "Liberation Serif", "fontWeight": "bold", "fontSize": 28, "align": "center", "baseline": "alphabetic", "color": "black"}, "encoding": {"text": {"field": "txt"}}}
]
},
{
"width": 592, "height": 410,
"layer": [
{
"encoding": {
"x": {"field": "t", "type": "quantitative", "scale": {"domain": [-15.51, 105.31], "nice": false, "zero": false}, "axis": null},
"y": {"field": "i", "type": "quantitative", "scale": {"domain": [-216.5, 906.9], "nice": false, "zero": false}, "axis": null}
},
"layer": [
{"data": {"name": "AR"}, "mark": {"type": "line", "stroke": "black", "strokeWidth": 4.8, "strokeJoin": "round"}, "encoding": {"detail": {"field": "s"}}},
{"data": {"values": [{"t": 22.65, "i": -153.4, "txt": "10"}, {"t": 33.67, "i": -153.4, "txt": "M pinacidil"}]}, "mark": {"type": "text", "font": "Liberation Serif", "fontWeight": "bold", "fontSize": 27, "align": "left", "baseline": "alphabetic", "color": "black"}, "encoding": {"text": {"field": "txt"}}},
{"data": {"values": [{"t": 29.4, "i": -153.4, "txt": "μ"}]}, "mark": {"type": "text", "font": "Liberation Serif", "fontStyle": "italic", "fontSize": 27, "align": "left", "baseline": "alphabetic", "color": "black"}, "encoding": {"text": {"field": "txt"}}}
]
},
{
"data": {"values": [
{"u": 0, "u2": 80, "v": 6, "v2": 6},
{"u": 0, "u2": 80, "v": 5, "v2": 5},
{"u": 0, "u2": 80, "v": 4, "v2": 4},
{"u": 0, "u2": 80, "v": 3, "v2": 3},
{"u": 0, "u2": 80, "v": 1, "v2": 1},
{"u": 0, "u2": 80, "v": 0, "v2": 0},
{"u": -25.1, "u2": 95.4, "v": 2, "v2": 2},
{"u": 0, "u2": 0, "v": 0, "v2": 6},
{"u": 80, "u2": 80, "v": 0, "v2": 6}
]},
"encoding": {
"x": {"field": "u", "type": "quantitative", "scale": {"domain": [-241.14, 97.14], "nice": false, "zero": false}, "axis": null},
"y": {"field": "v", "type": "quantitative", "scale": {"domain": [-32.62, 10.76], "nice": false, "zero": false}, "axis": null}
},
"layer": [
{"mark": {"type": "rule", "stroke": "black", "strokeWidth": 1.3}, "encoding": {"x2": {"field": "u2"}, "y2": {"field": "v2"}}},
{"data": {"values": [{"u": 58.9, "v": 8.43, "txt": "60mV"}]}, "mark": {"type": "text", "font": "Liberation Serif", "fontWeight": "bold", "fontSize": 23, "align": "center", "baseline": "alphabetic", "color": "black"}, "encoding": {"text": {"field": "txt"}}},
{"data": {"values": [{"u": -26.3, "v": 2, "txt": "-70mV"}]}, "mark": {"type": "text", "font": "Liberation Serif", "fontWeight": "bold", "fontSize": 23, "align": "right", "baseline": "middle", "color": "black"}, "encoding": {"text": {"field": "txt"}}},
{"data": {"values": [{"u": 71.4, "v": -3.32, "txt": "-80mV"}]}, "mark": {"type": "text", "font": "Liberation Serif", "fontWeight": "bold", "fontSize": 23, "align": "center", "baseline": "alphabetic", "color": "black"}, "encoding": {"text": {"field": "txt"}}}
]
}
],
"resolve": {"scale": {"x": "independent", "y": "independent"}}
},
{
"width": 545, "height": 403,
"encoding": {
"x": {"field": "t", "type": "quantitative", "scale": {"domain": [-13.40, 98.97], "nice": false, "zero": false}, "axis": null},
"y": {"field": "i", "type": "quantitative", "scale": {"domain": [-172.6, 931.6], "nice": false, "zero": false}, "axis": null}
},
"layer": [
{"data": {"name": "BL"}, "mark": {"type": "line", "stroke": "black", "strokeWidth": 4.8, "strokeJoin": "round"}, "encoding": {"detail": {"field": "s"}}},
{"data": {"values": [{"t": 78.35, "t2": 78.35, "i": 715, "i2": 915}, {"t": 78.35, "t2": 98.35, "i": 715, "i2": 715}]}, "mark": {"type": "rule", "stroke": "black", "strokeWidth": 1.3}, "encoding": {"x2": {"field": "t2"}, "y2": {"field": "i2"}}},
{"data": {"values": [{"t": -9.69, "i": 838.4, "txt": "B.\u00a0\u00a021-day fetus"}]}, "mark": {"type": "text", "font": "Liberation Serif", "fontWeight": "bold", "fontSize": 26, "align": "left", "baseline": "alphabetic", "color": "black"}, "encoding": {"text": {"field": "txt"}}},
{"data": {"values": [{"t": 74.64, "i": 802.8, "txt": "200 pA"}]}, "mark": {"type": "text", "font": "Liberation Serif", "fontWeight": "bold", "fontSize": 27.5, "align": "right", "baseline": "alphabetic", "color": "black"}, "encoding": {"text": {"field": "txt"}}},
{"data": {"values": [{"t": 90.1, "i": 594.6, "txt": "20 ms"}]}, "mark": {"type": "text", "font": "Liberation Serif", "fontWeight": "bold", "fontSize": 27.5, "align": "center", "baseline": "alphabetic", "color": "black"}, "encoding": {"text": {"field": "txt"}}},
{"data": {"values": [{"t": 40, "i": -150.7, "txt": "Control"}]}, "mark": {"type": "text", "font": "Liberation Serif", "fontWeight": "bold", "fontSize": 28, "align": "center", "baseline": "alphabetic", "color": "black"}, "encoding": {"text": {"field": "txt"}}}
]
},
{
"width": 592, "height": 403,
"encoding": {
"x": {"field": "t", "type": "quantitative", "scale": {"domain": [-18.56, 103.51], "nice": false, "zero": false}, "axis": null},
"y": {"field": "i", "type": "quantitative", "scale": {"domain": [-158.9, 945.3], "nice": false, "zero": false}, "axis": null}
},
"layer": [
{"data": {"name": "BR"}, "mark": {"type": "line", "stroke": "black", "strokeWidth": 4.8, "strokeJoin": "round"}, "encoding": {"detail": {"field": "s"}}},
{"data": {"values": [{"t": 20.41, "i": -131.5, "txt": "10"}, {"t": 31.55, "i": -131.5, "txt": "M pinacidil"}]}, "mark": {"type": "text", "font": "Liberation Serif", "fontWeight": "bold", "fontSize": 27, "align": "left", "baseline": "alphabetic", "color": "black"}, "encoding": {"text": {"field": "txt"}}},
{"data": {"values": [{"t": 27.2, "i": -131.5, "txt": "μ"}]}, "mark": {"type": "text", "font": "Liberation Serif", "fontStyle": "italic", "fontSize": 27, "align": "left", "baseline": "alphabetic", "color": "black"}, "encoding": {"text": {"field": "txt"}}}
]
}
]
}
